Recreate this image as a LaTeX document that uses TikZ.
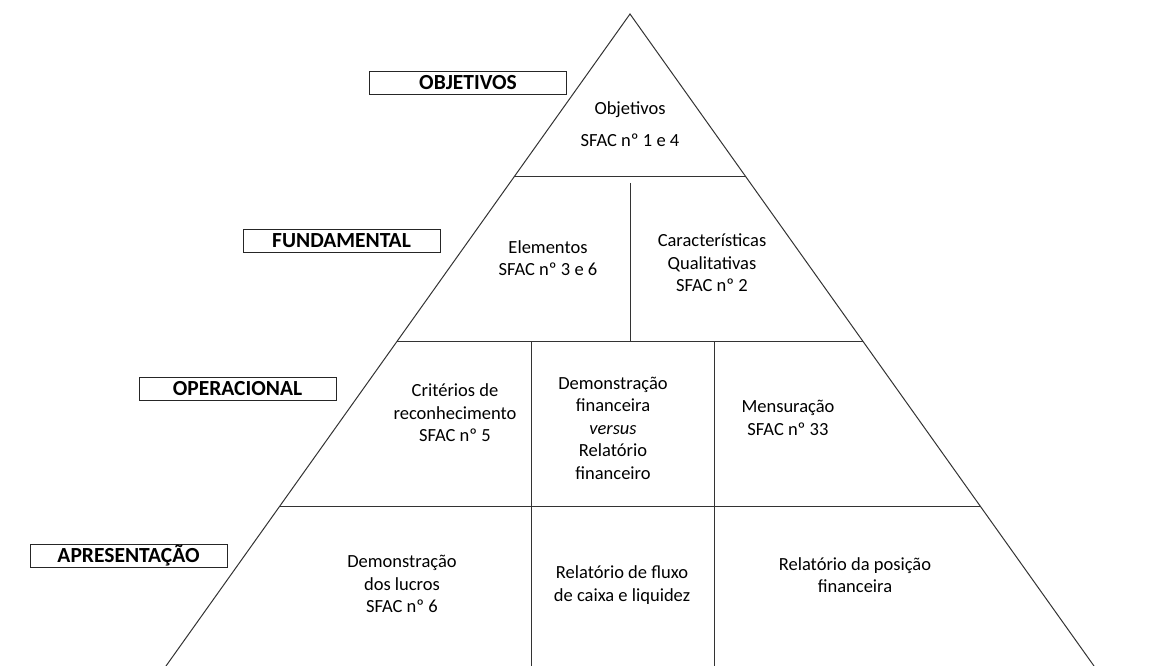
\documentclass[tikz,border=0pt]{standalone}
\usepackage{fontspec}
\setmainfont{Carlito}
\usetikzlibrary{positioning}
\usetikzlibrary{calc}
\tikzset{
	every node/.style = {font=\fontsize{18.5}{22.5}\selectfont},
	level/.style = {draw=black!85, line width=1pt, minimum width=197pt, minimum height=23pt, inner sep=0pt, font=\fontsize{21.5}{22}\selectfont\bfseries},
	cell/.style = {align=center},
	edge/.style = {line width=1pt, draw=black!80}
}

\begin{document}
\begin{tikzpicture}[x=1pt, y=-1pt]
		\useasboundingbox (0,0) rectangle (1160,666);
		% pyramid
		\coordinate (apex) at (630,14);
		\coordinate (bl) at (166,666);
		\coordinate (br) at (1094,666);
		\draw[edge] (bl) -- (apex) -- (br);
		\coordinate (l1) at ($(apex)!0.25!(bl)$);
		\coordinate (r1) at ($(apex)!0.25!(br)$);
		\coordinate (l2) at ($(apex)!0.503!(bl)$);
		\coordinate (r2) at ($(apex)!0.503!(br)$);
		\coordinate (l3) at ($(apex)!0.756!(bl)$);
		\coordinate (r3) at ($(apex)!0.756!(br)$);
		\draw[edge] (l1) -- (r1);
		\draw[edge] (l2) -- (r2);
		\draw[edge] (l3) -- (r3);
		% divisions
		\coordinate (fdiv) at (630,183);
		\coordinate (odiva) at (531,0);
		\coordinate (odivb) at (714,0);
		\draw[edge] (fdiv) -- (fdiv |- l2);
		\draw[edge] (odiva |- l2) -- (odiva |- bl);
		\draw[edge] (odivb |- l2) -- (odivb |- bl);

		% levels
		\node[level] (objetivos) at (468,83) {OBJETIVOS};
		\node[level] (fundamental) at (341.5,241) {FUNDAMENTAL};
		\node[level] (operacional) at (237.5,389) {OPERACIONAL};
		\node[level] (apresentacao) at (128.5,556) {APRESENTAÇÃO};

		% cells
		\node[cell] (obj) at (630,124) {Objetivos\\[9pt]SFAC nº 1 e 4};
		\node[cell] (elem) at (548,258) {Elementos\\SFAC nº 3 e 6};
		\node[cell] (carac) at (712,263) {Características\\Qualitativas\\SFAC nº 2};
		\node[cell] (crit) at (455,413) {Critérios de\\reconhecimento\\SFAC nº 5};
		\node[cell] (demfin) at (613,428) {Demonstração\\financeira\\\textit{versus}\\Relatório\\financeiro};
		\node[cell] (mens) at (788,418) {Mensuração\\SFAC nº 33};
		\node[cell] (lucros) at (402,584) {Demonstração\\dos lucros\\SFAC nº 6};
		\node[cell] (fluxo) at (622,585) {Relatório de fluxo\\de caixa e liquidez};
		\node[cell] (posicao) at (855,575) {Relatório da posição\\financeira};
\end{tikzpicture}
\end{document}
